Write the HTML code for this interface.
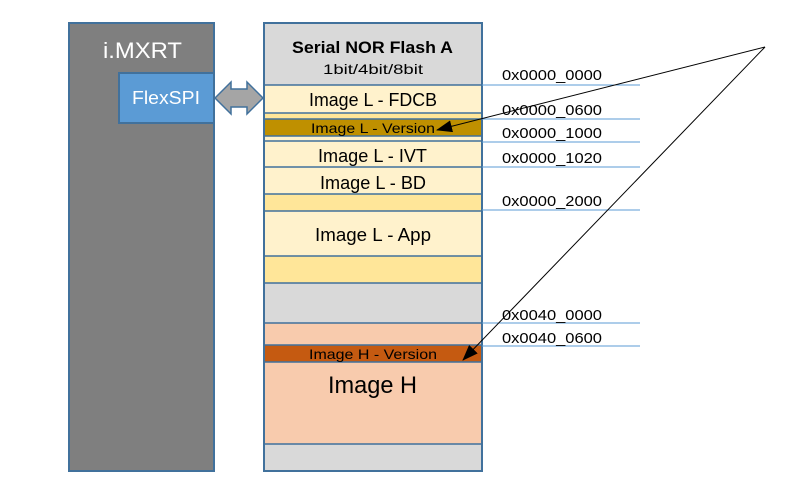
<!DOCTYPE html>
<html><head><meta charset="utf-8"><style>
html,body{margin:0;padding:0;background:#fff;}
svg{display:block;font-family:"Liberation Sans",sans-serif;}
</style></head><body>
<svg width="798" height="498" viewBox="0 0 798 498" xmlns="http://www.w3.org/2000/svg">
<defs><marker id="ah" markerWidth="16" markerHeight="12" refX="15" refY="6" orient="auto" markerUnits="userSpaceOnUse" viewBox="0 0 16 12"><path d="M0,0 L16,6 L0,12 z" fill="#000"/></marker></defs>
<rect x="69" y="23" width="145" height="448" fill="#7f7f7f" stroke="#41719c" stroke-width="2"/>
<text x="103" y="58" font-size="22" fill="#fff" textLength="79" lengthAdjust="spacingAndGlyphs">i.MXRT</text>
<rect x="119" y="73" width="95" height="50" fill="#5b9bd5" stroke="#41719c" stroke-width="2"/>
<text x="132" y="104" font-size="18" fill="#fff" textLength="68" lengthAdjust="spacingAndGlyphs">FlexSPI</text>
<path d="M215,98 L231,82 L231,89 L247,89 L247,82 L263,98 L247,114 L247,107 L231,107 L231,114 Z" fill="#a5a5a5" stroke="#41719c" stroke-width="1.5"/>
<rect x="264" y="23" width="218" height="448" fill="#d9d9d9"/>
<rect x="264" y="85" width="218" height="28" fill="#fff2cc"/>
<rect x="264" y="113" width="218" height="6" fill="#ffe699"/>
<rect x="264" y="119" width="218" height="17" fill="#bf9000"/>
<rect x="264" y="136" width="218" height="5" fill="#fff2cc"/>
<rect x="264" y="141" width="218" height="26" fill="#fff2cc"/>
<rect x="264" y="167" width="218" height="27" fill="#fff2cc"/>
<rect x="264" y="194" width="218" height="17" fill="#ffe699"/>
<rect x="264" y="211" width="218" height="45" fill="#fff2cc"/>
<rect x="264" y="256" width="218" height="27" fill="#ffe699"/>
<rect x="264" y="323" width="218" height="22" fill="#f8cbad"/>
<rect x="264" y="345" width="218" height="17" fill="#c55a11"/>
<rect x="264" y="362" width="218" height="82" fill="#f8cbad"/>
<g stroke="#41719c" stroke-width="1.5">
<line x1="264" y1="85" x2="482" y2="85"/><line x1="264" y1="113" x2="482" y2="113"/>
<line x1="264" y1="119" x2="482" y2="119"/><line x1="264" y1="136" x2="482" y2="136"/>
<line x1="264" y1="141" x2="482" y2="141"/><line x1="264" y1="167" x2="482" y2="167"/>
<line x1="264" y1="194" x2="482" y2="194"/><line x1="264" y1="211" x2="482" y2="211"/>
<line x1="264" y1="256" x2="482" y2="256"/><line x1="264" y1="283" x2="482" y2="283"/>
<line x1="264" y1="323" x2="482" y2="323"/><line x1="264" y1="345" x2="482" y2="345"/>
<line x1="264" y1="362" x2="482" y2="362"/><line x1="264" y1="444" x2="482" y2="444"/>
</g>
<rect x="264" y="23" width="218" height="448" fill="none" stroke="#41719c" stroke-width="2"/>
<text x="292" y="53" font-size="17" font-weight="bold" textLength="161" lengthAdjust="spacingAndGlyphs">Serial NOR Flash A</text>
<text x="323" y="74" font-size="14" textLength="100" lengthAdjust="spacingAndGlyphs">1bit/4bit/8bit</text>
<g font-size="18" lengthAdjust="spacingAndGlyphs">
<text x="309" y="106" textLength="128" lengthAdjust="spacingAndGlyphs">Image L - FDCB</text>
<text x="318" y="162" textLength="109" lengthAdjust="spacingAndGlyphs">Image L - IVT</text>
<text x="320" y="189" textLength="106" lengthAdjust="spacingAndGlyphs">Image L - BD</text>
<text x="315" y="241" textLength="116" lengthAdjust="spacingAndGlyphs">Image L - App</text>
</g>
<text x="311" y="133" font-size="14" textLength="124" lengthAdjust="spacingAndGlyphs">Image L - Version</text>
<text x="309" y="359" font-size="14" textLength="128" lengthAdjust="spacingAndGlyphs">Image H - Version</text>
<text x="328" y="393" font-size="24" textLength="89" lengthAdjust="spacingAndGlyphs">Image H</text>
<g stroke="#5b9bd5" stroke-width="1">
<line x1="482" y1="85" x2="640" y2="85"/><line x1="482" y1="119" x2="640" y2="119"/>
<line x1="482" y1="142" x2="640" y2="142"/><line x1="482" y1="167" x2="640" y2="167"/>
<line x1="482" y1="210" x2="640" y2="210"/><line x1="482" y1="323" x2="640" y2="323"/>
<line x1="482" y1="346" x2="640" y2="346"/>
</g>
<g font-size="15">
<text x="502" y="80" textLength="100" lengthAdjust="spacingAndGlyphs">0x0000_0000</text>
<text x="502" y="115" textLength="100" lengthAdjust="spacingAndGlyphs">0x0000_0600</text>
<text x="502" y="138" textLength="100" lengthAdjust="spacingAndGlyphs">0x0000_1000</text>
<text x="502" y="163" textLength="100" lengthAdjust="spacingAndGlyphs">0x0000_1020</text>
<text x="502" y="206" textLength="100" lengthAdjust="spacingAndGlyphs">0x0000_2000</text>
<text x="502" y="320" textLength="100" lengthAdjust="spacingAndGlyphs">0x0040_0000</text>
<text x="502" y="343" textLength="100" lengthAdjust="spacingAndGlyphs">0x0040_0600</text>
</g>
<line x1="765" y1="47" x2="437" y2="130" stroke="#000" stroke-width="1" marker-end="url(#ah)"/>
<line x1="765" y1="47" x2="463" y2="360" stroke="#000" stroke-width="1" marker-end="url(#ah)"/>
</svg>
</body></html>
